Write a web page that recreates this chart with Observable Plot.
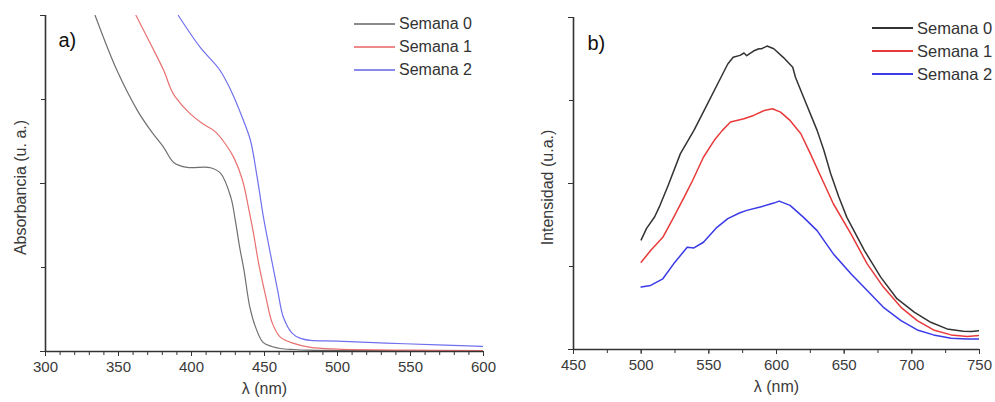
<!DOCTYPE html>
<html><head><meta charset="utf-8">
<script src="https://cdn.jsdelivr.net/npm/d3@7"></script>
<script src="https://cdn.jsdelivr.net/npm/@observablehq/plot@0.6"></script>
<style>
body{margin:0;background:#fff;font-family:"Liberation Sans",Arial,sans-serif;}
#wrap{position:relative;width:995px;height:402px;display:flex;overflow:hidden;}
.legend{position:absolute;color:#333;}
.row{position:absolute;left:0;display:flex;align-items:center;white-space:nowrap;height:22px;transform:translateY(-50%);}
.row .l{display:inline-block;width:41px;height:0;border-top:2px solid;margin-right:4px;}
</style></head><body><div id="wrap"></div>
<script>
const series = ["Semana 0", "Semana 1", "Semana 2"];

// Panel a) absorbance
const wlA0 = [334,349,363,372,381,388,397,413,420,427,430,433,436,440,444,449,455,461,470,480,500,550,600];
const absA0 = [1.0,0.836,0.717,0.658,0.607,0.562,0.548,0.547,0.53,0.458,0.39,0.31,0.241,0.131,0.071,0.027,0.015,0.009,0.006,0.004,0.003,0.002,0.001];
const wlA1 = [362,372,381,386,389,399,407,416,423,429,435,439,442.5,446,451,455.5,461,470,481.5,500,550,600];
const absA1 = [1.0,0.915,0.836,0.78,0.757,0.708,0.68,0.655,0.619,0.577,0.509,0.429,0.351,0.262,0.161,0.083,0.042,0.024,0.012,0.007,0.004,0.003];
const wlA2 = [391,406,419,427,435.6,440.4,445,449.3,454,459,463,469,474.7,481.5,500,546,600];
const absA2 = [1.0,0.905,0.84,0.777,0.6875,0.628,0.518,0.399,0.292,0.182,0.101,0.054,0.039,0.033,0.031,0.023,0.015];

// Panel b) emission intensity
const wlB0 = [500,504,510,514,520,529,539,549,559,564,568,573,576,578,583,587,589,593,598,605,612,614,620,630,635,640,646,652,665,677,689,702,714,726,738,744,750];
const intB0 = [0.33,0.365,0.40,0.435,0.495,0.59,0.66,0.74,0.82,0.86,0.88,0.886,0.893,0.885,0.899,0.906,0.906,0.914,0.906,0.88,0.85,0.82,0.76,0.66,0.60,0.53,0.46,0.398,0.298,0.218,0.153,0.112,0.082,0.062,0.055,0.054,0.057];
const wlB1 = [500,507,516,524,533,538,546,554,560,566,576,583,591,597,603,610,618,625,633,642,655,667,679,692,704,716,729,741,750];
const intB1 = [0.263,0.298,0.338,0.398,0.469,0.509,0.579,0.63,0.66,0.685,0.695,0.705,0.72,0.725,0.715,0.69,0.65,0.59,0.519,0.439,0.348,0.258,0.188,0.127,0.087,0.059,0.044,0.039,0.042];
const wlB2 = [500,507,516,524,534,539,546,556,564,573,578,588,598,602,610,620,630,642,655,667,679,692,704,716,729,741,750];
const intB2 = [0.188,0.193,0.213,0.258,0.308,0.306,0.323,0.368,0.394,0.412,0.419,0.429,0.441,0.447,0.434,0.398,0.358,0.288,0.228,0.178,0.127,0.087,0.059,0.044,0.034,0.032,0.032];

const xTicksA = [300,350,400,450,500,550,600];
const xTicksB = [450,500,550,600,650,700,750];

function tidy(wls, vals) {
  const out = [];
  wls.forEach((wl, i) => wl.forEach((w, j) => out.push({s: series[i], wl: w, v: vals[i][j]})));
  return out;
}

const dataA = tidy([wlA0, wlA1, wlA2], [absA0, absA1, absA2]);
const dataB = tidy([wlB0, wlB1, wlB2], [intB0, intB1, intB2]);

function panel(o) {
  return Plot.plot({
    width: o.width, height: 402,
    marginLeft: o.ml, marginRight: o.mr, marginTop: o.mt, marginBottom: o.mb,
    x: {domain: o.xDomain},
    y: {domain: [0, 1]},
    color: {domain: series, range: o.colors},
    style: {fontFamily: "'Liberation Sans', Arial, sans-serif", fontSize: "15px", color: "#3a3a3a", background: "white"},
    marks: [
      Plot.line(o.data, {x: "wl", y: "v", z: "s", stroke: "s", strokeWidth: o.sw, curve: o.curve, clip: true}),
      Plot.ruleY([0], {stroke: "#333", strokeWidth: 1.6}),
      Plot.ruleX([o.xDomain[0]], {stroke: "#333", strokeWidth: 1.6}),
      Plot.axisX(o.xMajor, {tickSize: 5, tickPadding: 5, label: null, fontSize: 15, stroke: "#333"}),
      Plot.axisX(d3.range(o.xDomain[0], o.xDomain[1] + 0.1, o.minorStep), {tickSize: 4, text: null, label: null, stroke: "#333"}),
      Plot.axisY([0, 0.5, 1], {tickSize: 5, text: null, label: null, stroke: "#333"}),
      Plot.axisY([0.25, 0.75], {tickSize: 4, text: null, label: null, stroke: "#333"}),
      Plot.text([o.xLabel], {frameAnchor: "bottom", dy: 42, fontSize: 16, textAnchor: "middle"}),
      Plot.text([o.yLabel], {frameAnchor: "left", rotate: -90, dx: -o.ylOff, dy: 4, fontSize: 16, textAnchor: "middle"}),
      Plot.text([o.tag], {frameAnchor: "top-left", dx: o.tagDx, dy: o.tagDy, fontSize: 20, textAnchor: "start", fill: "#111"})
    ]
  });
}

const wrap = document.getElementById("wrap");
wrap.append(panel({
  data: dataA, width: 500, ml: 45, mr: 17, mt: 15, mb: 51,
  xDomain: [300, 600], xMajor: xTicksA, minorStep: 10,
  colors: ["#707070", "#e87070", "#7070ee"], sw: 1.2, curve: "catmull-rom",
  xLabel: "λ (nm)", yLabel: "Absorbancia (u. a.)", ylOff: 25, tag: "a)", tagDx: 13, tagDy: 17
}));
wrap.append(panel({
  data: dataB, width: 495, ml: 73, mr: 16, mt: 17, mb: 53,
  xDomain: [450, 750], xMajor: xTicksB, minorStep: 25,
  colors: ["#333333", "#e83a3a", "#3a3ae8"], sw: 1.5, curve: "linear",
  xLabel: "λ (nm)", yLabel: "Intensidad (u.a.)", ylOff: 26, tag: "b)", tagDx: 14, tagDy: 18
}));

function legend(left, top, gap, size, colors) {
  const div = document.createElement("div");
  div.className = "legend";
  div.style.left = left + "px";
  div.style.top = top + "px";
  div.style.fontSize = size + "px";
  series.forEach((s, i) => {
    const r = document.createElement("div");
    r.className = "row";
    r.style.top = (i * gap) + "px";
    const l = document.createElement("span");
    l.className = "l";
    l.style.borderColor = colors[i];
    r.append(l, document.createTextNode(s));
    div.append(r);
  });
  wrap.append(div);
}
legend(354, 24, 23, 16, ["#8a8a8a", "#ec8a8a", "#8a8aee"]);
legend(872, 28, 23, 16.5, ["#333333", "#e83a3a", "#3a3ae8"]);
</script>
</body></html>
